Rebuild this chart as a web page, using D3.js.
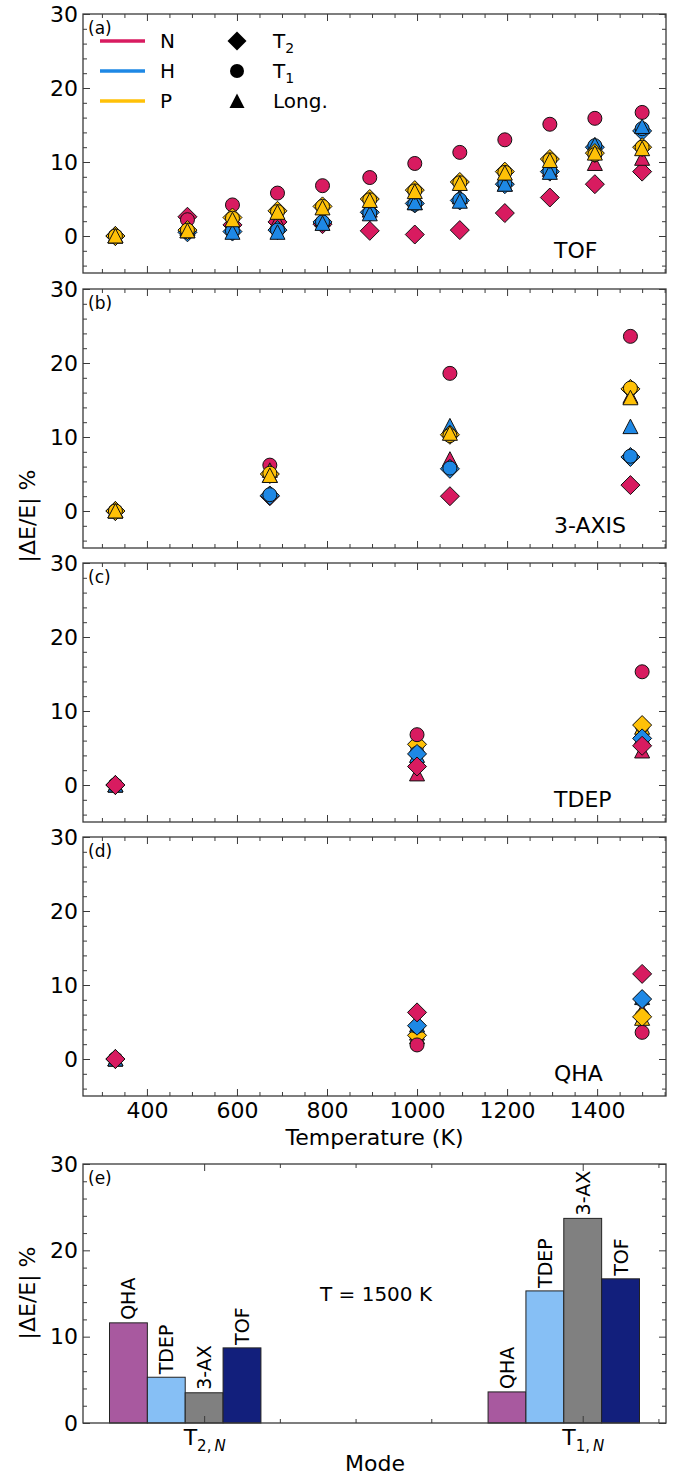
<!DOCTYPE html>
<html>
<head>
<meta charset="utf-8">
<script src="https://cdn.jsdelivr.net/npm/d3@7"></script>
<style>
  body { margin: 0; background: #fff; }
  text { font-family: "DejaVu Sans", sans-serif; fill: #000; }
</style>
</head>
<body>
<div id="graphic"></div>
<script>
(function(d3){

    // ---- Data ----
    // Panel (a): TOF
    let tofTemps = [330, 490, 590, 690, 790, 895, 995, 1095, 1195, 1295, 1395, 1500];
    let tofNT2 = [0, 2.6, 1.5, 1.9, 1.6, 0.7, 0.2, 0.8, 3.1, 5.2, 7.0, 8.7];
    let tofNT1 = [0, 2.2, 4.2, 5.8, 6.8, 7.9, 9.8, 11.3, 13.0, 15.1, 15.9, 16.7];
    let tofNL  = [0, 1.0, 1.6, 2.0, 2.2, 3.5, 4.5, 5.3, 7.0, 9.0, 9.8, 10.5];
    let tofHT2 = [0, 0.5, 0.6, 0.8, 1.9, 3.2, 4.4, 4.8, 7.0, 8.7, 12.0, 14.2];
    let tofHT1 = [0, 0.6, 0.7, 0.8, 1.9, 3.1, 4.3, 4.9, 7.1, 8.8, 12.2, 14.5];
    let tofHL  = [0, 0.7, 0.5, 0.5, 1.7, 3.0, 4.5, 4.7, 7.0, 8.6, 12.3, 14.8];
    let tofPT2 = [0, 0.8, 2.5, 3.4, 4.0, 5.0, 6.2, 7.3, 8.7, 10.4, 11.2, 12.0];
    let tofPT1 = [0, 0.8, 2.4, 3.3, 4.0, 4.9, 6.1, 7.2, 8.6, 10.3, 11.0, 12.0];
    let tofPL  = [0, 0.7, 2.2, 3.2, 3.8, 4.8, 6.0, 7.1, 8.5, 10.2, 11.2, 11.8];

    // Panel (b): 3-AXIS
    let axTemps = [330, 673, 1073, 1474];
    let axNT2 = [0, 2.0, 2.0, 3.5];
    let axNT1 = [0, 6.2, 18.6, 23.6];
    let axNL  = [0, 5.5, 7.0, 15.5];
    let axHT2 = [0, 2.1, 5.7, 7.3];
    let axHT1 = [0, 2.2, 5.8, 7.4];
    let axHL  = [0, 4.8, 11.5, 11.4];
    let axPT2 = [0, 5.0, 10.3, 16.5];
    let axPT1 = [0, 5.1, 10.2, 16.6];
    let axPL  = [0, 4.8, 10.5, 15.3];

    // Panel (c): TDEP
    let tdepTemps = [330, 1000, 1500];
    let tdepNT2 = [0, 2.5, 5.3];
    let tdepNT1 = [0, 6.8, 15.3];
    let tdepNL  = [0, 1.5, 4.6];
    let tdepHT2 = [0, 4.2, 6.3];
    let tdepHT1 = [0, 4.3, 6.2];
    let tdepHL  = [0, 4.0, 6.5];
    let tdepPT2 = [0, 5.5, 8.1];
    let tdepPT1 = [0, 5.4, 8.0];
    let tdepPL  = [0, 5.3, 7.8];

    // Panel (d): QHA
    let qhaTemps = [330, 1000, 1500];
    let qhaNT2 = [0, 6.3, 11.5];
    let qhaNT1 = [0, 1.9, 3.6];
    let qhaNL  = [0, 3.5, 6.5];
    let qhaHT2 = [0, 4.5, 8.1];
    let qhaHT1 = [0, 4.4, 8.0];
    let qhaHL  = [0, 4.6, 8.3];
    let qhaPT2 = [0, 3.2, 5.7];
    let qhaPT1 = [0, 3.3, 5.8];
    let qhaPL  = [0, 3.0, 5.5];

    // Panel (e): bars at T = 1500 K
    let barModes = ['2', '1'];
    let barMethods = ['QHA', 'TDEP', '3-AX', 'TOF'];
    let barQHA  = [11.6, 3.6];
    let barTDEP = [5.3, 15.3];
    let barAX   = [3.5, 23.7];
    let barTOF  = [8.7, 16.7];

    let yTicks = [0, 10, 20, 30];
    let xTicks = [400, 600, 800, 1000, 1200, 1400];

    // ---- Styling ----
    let width = 682, height = 1476;
    let left = 83, right = 666;
    let panelH = 259;
    let tops = [14, 289, 563, 837];
    let eTop = 1164, eBottom = 1423;
    let spine = '#3a3a3a';

    let colors = { N: '#D81B60', H: '#1E88E5', P: '#FFC107' };
    let barColors = { 'QHA': '#A8599F', 'TDEP': '#86BFF5', '3-AX': '#808080', 'TOF': '#121F7C' };

    let markerPaths = {
        T2: 'M0,-9.5L9.5,0L0,9.5L-9.5,0Z',
        T1: 'M7,0A7,7 0 1,1 -7,0A7,7 0 1,1 7,0Z',
        L:  'M0,-7.5L7.5,7L-7.5,7Z'
    };

    let svg = d3.select('#graphic')
                .append('svg')
                .attr('width', width)
                .attr('height', height);

    let x = d3.scaleLinear().domain([258, 1553]).range([left, right]);

    // Inward ticks on all four sides
    function drawFrame(xs, ys, top, bottom, xMajor, xMinor, yMajor, yMinor, showXLabels) {
        let g = svg.append('g');
        let mk = (axis, tr) => {
            let a = g.append('g').attr('transform', tr).call(axis);
            a.select('.domain').remove();
            a.selectAll('line').attr('stroke', spine).attr('stroke-width', 1);
            a.selectAll('text').style('font-size', '22px').attr('fill', '#000');
            return a;
        };
        mk(d3.axisLeft(ys).tickValues(yMajor).tickSize(-7).tickSizeOuter(0).tickPadding(5), `translate(${left},0)`);
        mk(d3.axisLeft(ys).tickValues(yMinor).tickSize(-4).tickSizeOuter(0).tickFormat(''), `translate(${left},0)`);
        mk(d3.axisRight(ys).tickValues(yMajor).tickSize(-7).tickSizeOuter(0).tickFormat(''), `translate(${right},0)`);
        mk(d3.axisRight(ys).tickValues(yMinor).tickSize(-4).tickSizeOuter(0).tickFormat(''), `translate(${right},0)`);
        let bx = mk(d3.axisBottom(xs).tickValues(xMajor).tickSize(-7).tickSizeOuter(0).tickPadding(6)
                    .tickFormat(showXLabels ? d3.format('d') : ''), `translate(0,${bottom})`);
        mk(d3.axisBottom(xs).tickValues(xMinor).tickSize(-4).tickSizeOuter(0).tickFormat(''), `translate(0,${bottom})`);
        mk(d3.axisTop(xs).tickValues(xMajor).tickSize(-7).tickSizeOuter(0).tickFormat(''), `translate(0,${top})`);
        mk(d3.axisTop(xs).tickValues(xMinor).tickSize(-4).tickSizeOuter(0).tickFormat(''), `translate(0,${top})`);
        g.append('rect')
            .attr('x', left).attr('y', top)
            .attr('width', right - left).attr('height', bottom - top)
            .attr('fill', 'none').attr('stroke', spine).attr('stroke-width', 1.3);
        return bx;
    }

    let xMinor = d3.range(300, 1551, 50).filter(v => v % 200 !== 0);
    let yMinor = d3.range(-4, 30, 2).filter(v => v % 10 !== 0);

    function drawPanel(i, letter, name, temps, series) {
        let top = tops[i], bottom = top + panelH;
        let y = d3.scaleLinear().domain([-5, 30]).range([bottom, top]);

        series.forEach(s => {
            svg.append('g').selectAll('path')
                .data(temps.map((t, k) => [t, s.values[k]]))
                .join('path')
                .attr('d', markerPaths[s.marker])
                .attr('transform', d => `translate(${x(d[0])},${y(d[1])})`)
                .attr('fill', colors[s.color])
                .attr('stroke', '#111')
                .attr('stroke-width', 1);
        });

        drawFrame(x, y, top, bottom, xTicks, xMinor, yTicks, yMinor, i === 3);

        svg.append('text')
            .attr('x', left + 5).attr('y', top + 14)
            .attr('dominant-baseline', 'central')
            .style('font-size', '17px')
            .text(`(${letter})`);

        svg.append('text')
            .attr('x', 554).attr('y', bottom - 23)
            .attr('dominant-baseline', 'central')
            .style('font-size', '22px')
            .text(name);
    }

    function seriesList(order, v) {
        let out = [];
        order.forEach(([c, m]) => out.push({ color: c, marker: m, values: v[c + m] }));
        return out;
    }

    // N/H/P drawn in that order (a, b), mostly reversed in (c, d)
    let orderAB = [['N','T2'],['N','T1'],['N','L'],['H','T2'],['H','T1'],['H','L'],['P','T2'],['P','T1'],['P','L']];
    let orderCD = [['N','L'],['P','L'],['P','T1'],['P','T2'],['H','L'],['H','T1'],['H','T2'],['N','T1'],['N','T2']];

    drawPanel(0, 'a', 'TOF', tofTemps, seriesList(orderAB, {
        NT2: tofNT2, NT1: tofNT1, NL: tofNL, HT2: tofHT2, HT1: tofHT1, HL: tofHL, PT2: tofPT2, PT1: tofPT1, PL: tofPL }));
    drawPanel(1, 'b', '3-AXIS', axTemps, seriesList(orderAB, {
        NT2: axNT2, NT1: axNT1, NL: axNL, HT2: axHT2, HT1: axHT1, HL: axHL, PT2: axPT2, PT1: axPT1, PL: axPL }));
    drawPanel(2, 'c', 'TDEP', tdepTemps, seriesList(orderCD, {
        NT2: tdepNT2, NT1: tdepNT1, NL: tdepNL, HT2: tdepHT2, HT1: tdepHT1, HL: tdepHL, PT2: tdepPT2, PT1: tdepPT1, PL: tdepPL }));
    drawPanel(3, 'd', 'QHA', qhaTemps, seriesList(orderCD, {
        NT2: qhaNT2, NT1: qhaNT1, NL: qhaNL, HT2: qhaHT2, HT1: qhaHT1, HL: qhaHL, PT2: qhaPT2, PT1: qhaPT1, PL: qhaPL }));

    // Legend in panel (a)
    let legendRows = [41, 71, 101];
    ['N', 'H', 'P'].forEach((c, k) => {
        svg.append('line')
            .attr('x1', 100).attr('x2', 145)
            .attr('y1', legendRows[k]).attr('y2', legendRows[k])
            .attr('stroke', colors[c]).attr('stroke-width', 3.3);
        svg.append('text')
            .attr('x', 160).attr('y', legendRows[k])
            .attr('dominant-baseline', 'central')
            .style('font-size', '20px')
            .text(c);
    });
    [['T2', 'T', '2'], ['T1', 'T', '1'], ['L', 'Long.', '']].forEach(([m, main, sub], k) => {
        svg.append('path')
            .attr('d', markerPaths[m])
            .attr('transform', `translate(237,${legendRows[k]})`)
            .attr('fill', '#000');
        let t = svg.append('text')
            .attr('x', 273).attr('y', legendRows[k] + 7)
            .style('font-size', '20px');
        t.append('tspan').text(main);
        if (sub) t.append('tspan').attr('dy', 5).style('font-size', '14px').text(sub);
    });

    // Shared y label for (a)-(d)
    svg.append('text')
        .attr('transform', 'translate(27,516) rotate(-90)')
        .attr('text-anchor', 'middle')
        .attr('dominant-baseline', 'central')
        .style('font-size', '22px')
        .text('|ΔE/E| %');

    svg.append('text')
        .attr('x', (left + right) / 2).attr('y', 1137)
        .attr('text-anchor', 'middle')
        .attr('dominant-baseline', 'central')
        .style('font-size', '22px')
        .text('Temperature (K)');

    // ---- Panel (e): bars ----
    let xe = d3.scaleLinear().domain([-0.32, 1.22]).range([left, right]);
    let ye = d3.scaleLinear().domain([0, 30]).range([eBottom, eTop]);
    let barW = 0.1;
    let barOffsets = [-0.2, -0.1, 0, 0.1];
    let barValues = [barQHA, barTDEP, barAX, barTOF];

    barMethods.forEach((m, j) => {
        let g = svg.append('g');
        barModes.forEach((mode, i) => {
            let cx = i + barOffsets[j];
            let v = barValues[j][i];
            g.append('rect')
                .attr('x', xe(cx - barW / 2))
                .attr('y', ye(v))
                .attr('width', xe(cx + barW / 2) - xe(cx - barW / 2))
                .attr('height', ye(0) - ye(v))
                .attr('fill', barColors[m])
                .attr('stroke', '#222')
                .attr('stroke-width', 1);
            g.append('text')
                .attr('transform', `translate(${xe(cx)},${ye(v) - 3}) rotate(-90)`)
                .attr('dominant-baseline', 'central')
                .style('font-size', '19px')
                .text(m);
        });
    });

    let bx = drawFrame(xe, ye, eTop, eBottom, [0, 1], [0.2, 0.4, 0.6, 1.2],
        yTicks, d3.range(2, 30, 2).filter(v => v % 10 !== 0), false);
    bx.selectAll('.tick').each(function(d, i) {
        let t = d3.select(this).append('text')
            .attr('y', 22).attr('fill', '#000')
            .attr('text-anchor', 'middle')
            .style('font-size', '22px');
        t.append('tspan').text('T');
        t.append('tspan').attr('dy', 6).style('font-size', '15px').text(barModes[i] + ',\u2009');
        t.append('tspan').style('font-size', '15px').style('font-style', 'italic').text('N');
    });

    svg.append('text')
        .attr('x', left + 5).attr('y', eTop + 14)
        .attr('dominant-baseline', 'central')
        .style('font-size', '17px')
        .text('(e)');

    svg.append('text')
        .attr('x', 376).attr('y', 1294)
        .attr('text-anchor', 'middle')
        .attr('dominant-baseline', 'central')
        .style('font-size', '20px')
        .text('T = 1500 K');

    svg.append('text')
        .attr('transform', 'translate(27,1293) rotate(-90)')
        .attr('text-anchor', 'middle')
        .attr('dominant-baseline', 'central')
        .style('font-size', '22px')
        .text('|ΔE/E| %');

    svg.append('text')
        .attr('x', 375).attr('y', 1463)
        .attr('text-anchor', 'middle')
        .attr('dominant-baseline', 'central')
        .style('font-size', '22px')
        .text('Mode');

})(window.d3);
</script>
</body>
</html>
